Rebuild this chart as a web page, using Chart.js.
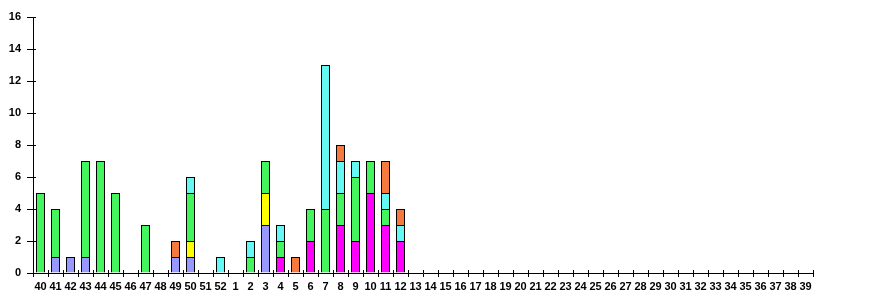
<!DOCTYPE html>
<html>
<head>
<meta charset="utf-8">
<script src="https://cdn.jsdelivr.net/npm/chart.js@4"></script>
<style>
  html, body { margin: 0; padding: 0; background: #fff; }
  #wrap { width: 870px; height: 300px; }
</style>
</head>
<body>
<div id="wrap"><canvas id="chart" width="870" height="300"></canvas></div>
<script>
// weeks 40..52 then 1..39
const weeks = ['40','41','42','43','44','45','46','47','48','49','50','51','52',
  '1','2','3','4','5','6','7','8','9','10','11','12','13','14','15','16','17','18','19','20',
  '21','22','23','24','25','26','27','28','29','30','31','32','33','34','35','36','37','38','39'];

// stacked series, bottom to top
const magenta = [0,0,0,0,0,0,0,0,0,0,0,0,0, 0,0,0,1,0,2,0,3,2,5,3,2];
const blue    = [0,1,1,1,0,0,0,0,0,1,1,0,0, 0,0,3,0,0,0,0,0,0,0,0,0];
const yellow  = [0,0,0,0,0,0,0,0,0,0,1,0,0, 0,0,2,0,0,0,0,0,0,0,0,0];
const green   = [5,3,0,6,7,5,0,3,0,0,3,0,0, 0,1,2,1,0,2,4,2,4,2,1,0];
const cyan    = [0,0,0,0,0,0,0,0,0,0,1,0,1, 0,1,0,1,0,0,9,2,1,0,1,1];
const orange  = [0,0,0,0,0,0,0,0,0,1,0,0,0, 0,0,0,0,1,0,0,1,0,0,2,1];

const yTicks = [0,2,4,6,8,10,12,14,16];

// zero counts are left out so no empty outline gets drawn
function pad(arr) {
  const out = arr.map(v => (v === 0 ? null : v));
  while (out.length < weeks.length) out.push(null);
  return out;
}

function series(data, color) {
  return {
    data: pad(data),
    backgroundColor: color,
    borderColor: '#000',
    borderWidth: 1,
    borderSkipped: 'start',
    inflateAmount: 0,
    barThickness: 9
  };
}

const font = { family: "'Liberation Sans', Arial, sans-serif", size: 11, weight: 'bold' };

// short tick stubs on the inner side of both axes (the reference ticks cross the axis)
const innerTicks = {
  id: 'innerTicks',
  afterDraw(chart) {
    const ctx = chart.ctx;
    const xs = chart.scales.x, ys = chart.scales.y;
    ctx.save();
    ctx.strokeStyle = '#000';
    ctx.lineWidth = 1;
    ctx.beginPath();
    const n = weeks.length;
    for (let i = 0; i <= n; i++) {
      const x = Math.round(xs.left + i * xs.width / n) + 0.5;
      ctx.moveTo(x, xs.top);
      ctx.lineTo(x, xs.top - 3);
    }
    yTicks.forEach(v => {
      const y = Math.round(ys.getPixelForValue(v)) + 0.5;
      ctx.moveTo(ys.right, y);
      ctx.lineTo(ys.right + 3, y);
    });
    ctx.stroke();
    ctx.restore();
  }
};

new Chart(document.getElementById('chart').getContext('2d'), {
  type: 'bar',
  data: {
    labels: weeks,
    datasets: [
      series(magenta, '#ff00ff'),
      series(blue, '#9898ff'),
      series(yellow, '#ffff00'),
      series(green, '#44f55e'),
      series(cyan, '#66f8f2'),
      series(orange, '#f47a3e')
    ]
  },
  plugins: [innerTicks],
  options: {
    responsive: false,
    animation: false,
    layout: { padding: { top: 17, right: 57, left: 0, bottom: 0 } },
    plugins: { legend: { display: false }, tooltip: { enabled: false } },
    scales: {
      x: {
        stacked: true,
        offset: true,
        grid: { offset: true, drawOnChartArea: false, color: '#000', tickLength: 4, tickWidth: 1 },
        border: { color: '#000', width: 1 },
        ticks: { color: '#000', font: font, maxRotation: 0, autoSkip: false, padding: 3 },
        afterFit: s => { s.height = 27; }
      },
      y: {
        stacked: true,
        min: 0,
        max: 16,
        afterBuildTicks: s => { s.ticks = yTicks.map(v => ({ value: v })); },
        grid: { drawOnChartArea: false, color: '#000', tickLength: 6 },
        border: { color: '#000', width: 1 },
        ticks: { color: '#000', font: font, padding: 6 },
        afterFit: s => { s.width = 33; }
      }
    }
  }
});
</script>
</body>
</html>
